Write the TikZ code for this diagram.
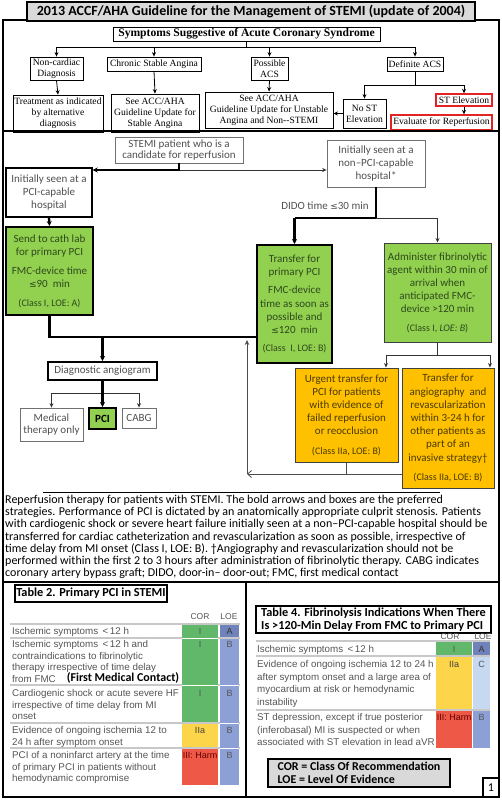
\documentclass[tikz,border=0pt]{standalone}
\usepackage{fontspec}
\setmainfont{Carlito}
\newfontfamily\serif{Liberation Serif}
\newfontfamily\arialf{Liberation Sans}
\newfontfamily\djv{DejaVu Sans}
\usetikzlibrary{arrows.meta}
\newcommand\lesy{{\djv\fontsize{9}{10}\selectfont ≤}}
\newcommand\lesyb{{\djv\fontsize{8}{9}\selectfont ≤}}
\definecolor{boxred}{HTML}{E32222}
\definecolor{txtg}{HTML}{505050}
\definecolor{lineg}{HTML}{707070}
\definecolor{pcigreen}{HTML}{92D050}
\definecolor{dgreen}{HTML}{2E4A1C}
\definecolor{orng}{HTML}{FFC000}
\definecolor{dorng}{HTML}{4A3A00}
\definecolor{lgray}{HTML}{D9D9D9}
\definecolor{tgreen}{HTML}{62B86A}
\definecolor{tblue}{HTML}{8DA0D6}
\definecolor{tdblue}{HTML}{6F82B9}
\definecolor{tlblue}{HTML}{C6D9F0}
\definecolor{tyellow}{HTML}{FDD54B}
\definecolor{tred}{HTML}{EE5846}
\definecolor{ttext}{HTML}{555555}
\definecolor{rowline}{HTML}{C8C8C8}
\begin{document}
\begin{tikzpicture}[x=1pt,y=-1pt,
  rc/.style args={#1/#2/#3/#4}{anchor=center, at={(#1*0.5+#3*0.5,#2*0.5+#4*0.5)},
     minimum width={(#3-#1)*1pt}, minimum height={(#4-#2)*1pt}},
  bx/.style={draw, inner sep=0pt, align=center, line width=0.8pt},
  sbox/.style={bx, font=\serif\fontsize{9.6}{11}\selectfont},
  rbox/.style={sbox, draw=boxred, line width=1.3pt},
  mbox/.style={bx, font=\fontsize{11}{13.2}\selectfont, text=txtg, draw=lineg},
  boldbox/.style={mbox, draw=black, line width=2pt},
  gbox/.style={mbox, fill=pcigreen, draw=black, line width=2pt, text=dgreen},
  abox/.style={mbox, fill=pcigreen, draw=black!75, line width=1pt, text=dgreen},
  obox/.style={mbox, fill=orng, draw=black!75, line width=1pt, text=dorng},
  arr/.style={-{Stealth[length=4.5pt,width=4pt]}, line width=0.8pt},
  garr/.style={arr, draw=black!80},
  thk/.style={line width=2.3pt},
  thkarr/.style={thk, -{Stealth[length=5pt,width=5pt]}},
  frame/.style={line width=1.6pt},
  cls/.style={font=\fontsize{10}{12}\selectfont},
  ttxt/.style={inner sep=0pt, anchor=north west, align=left, text=ttext},
  cell/.style={inner sep=0pt, draw=none},
  ctxt/.style={inner sep=0pt, font=\arialf\fontsize{9}{11}\selectfont, text=ttext},
  hdr/.style={inner sep=0pt, font=\arialf\fontsize{8.5}{10}\selectfont, text=ttext},
  ttl/.style={draw, line width=1.2pt, inner sep=0pt, font=\bfseries\fontsize{12.3}{14}\selectfont, align=left}
]
\useasboundingbox (0,0) rectangle (502,800);

% ---------- outer frame and title ----------
\draw[frame] (3,20) rectangle (499,797);
\node[draw, line width=1.6pt, fill=lgray, inner sep=0pt, rc=27/2/475/21,
      font=\bfseries\fontsize{14}{16}\selectfont] (title)
      {2013 ACCF/AHA Guideline for the Management of STEMI (update of 2004)};

% ---------- top flowchart ----------
\node[sbox, rc=113/27/380/41, font=\serif\bfseries\fontsize{11.6}{13}\selectfont] (sym)
      {Symptoms Suggestive of Acute Coronary Syndrome};
\node[sbox, rc=30/57/83/80] (nc) {Non-cardiac\\Diagnosis};
\node[sbox, rc=107/57/201/71] (csa) {Chronic Stable Angina};
\node[sbox, rc=251/57/288/80] (pacs) {Possible\\ACS};
\node[sbox, rc=387/57/443/71] (dacs) {Definite ACS};
\node[sbox, rc=13/95/103/132] (treat) {Treatment as indicated\\by alternative\\diagnosis};
\node[sbox, rc=111/94/199/132] (seest) {See ACC/AHA\\Guideline Update for\\Stable Angina};
\node[sbox, rc=205/92/333/128] (seeun) {See ACC/AHA\\Guideline Update for Unstable\\Angina and Non--STEMI};
\node[sbox, rc=343/99/386/128] (nost) {No ST\\Elevation};
\node[rbox, rc=436/94/492/106] (stel) {ST Elevation};
\node[rbox, rc=391/115/492/130] (evalr) {Evaluate for Reperfusion};

\coordinate (hb) at (0,47);
\coordinate (hd) at (0,85);
\draw[line width=0.8pt] (sym.south) -- (sym.south |- hb);
\draw[line width=0.8pt] (nc.north |- hb) -- (dacs.north |- hb);
\foreach \n in {nc,csa,pacs,dacs} \draw[arr] (\n.north |- hb) -- (\n.north);
\draw[arr] (nc.south) -- (treat.north);
\draw[arr] (csa.south) -- (seest.north);
\draw[arr] (pacs.south) -- (seeun.north);
\draw[line width=0.8pt] (dacs.south) -- (dacs.south |- hd);
\draw[line width=0.8pt] (nost.north |- hd) -- (stel.north |- hd);
\draw[arr] (nost.north |- hd) -- (nost.north);
\draw[arr] (stel.north |- hd) -- (stel.north);
\draw[arr] (stel.south) -- (stel.south |- evalr.north);
\draw[arr] (nost.west) -- (nost.west -| seeun.east);

\draw[line width=2pt] (3,131) -- (499,131);

% ---------- reperfusion flowchart ----------
\node[mbox, rc=115/137/243/163, font=\fontsize{11}{11.5}\selectfont] (stemi)
      {STEMI patient who is a\\candidate for reperfusion};
\node[mbox, rc=6/168/92/217, draw=black, line width=1.4pt] (pcicap)
      {Initially seen at a\\PCI-capable\\hospital};
\node[mbox, rc=327/140/425/187] (nonpci)
      {Initially seen at a\\non--PCI-capable\\hospital*};
\node[gbox, rc=6/227/93/315] (cath)
      {Send to cath lab\\for primary PCI\\[6pt]FMC-device time\\\lesy90\ \ min\\[5pt]{\fontsize{10}{12}\selectfont(Class I, LOE: A)}};
\node[gbox, rc=257/245/332/363] (trans)
      {Transfer for\\primary PCI\\[5pt]FMC-device\\time as soon as\\possible and\\\lesy120\ \ min\\[5pt]{\fontsize{10}{12}\selectfont(Class\ \ I, LOE: B)}};
\node[abox, rc=384/243/491/342] (admin)
      {Administer fibrinolytic\\agent within 30 min of\\arrival when\\anticipated FMC-\\device >120 min\\[5pt]{\fontsize{10}{12}\selectfont(Class I, \textit{LOE: B})}};
\node[obox, rc=295/368/398/462] (urg)
      {Urgent transfer for\\PCI for patients\\with evidence of\\failed reperfusion\\or reocclusion\\[6pt]{\fontsize{10}{12}\selectfont(Class IIa, LOE: B)}};
\node[obox, rc=402/368/494/488] (ang)
      {Transfer for\\angiography\ \ and\\revascularization\\within 3-24 h for\\other patients as\\part of an\\invasive strategy†\\[6pt]{\fontsize{10}{12}\selectfont(Class IIa, LOE: B)}};
\node[boldbox, rc=48/362/157/380] (diag) {Diagnostic angiogram};
\node[mbox, rc=20/408/83/441, font=\fontsize{11}{12.5}\selectfont] (med) {Medical\\therapy only};
\node[gbox, rc=89/408/116/429, text=black] (pci) {\textbf{PCI}};
\node[mbox, rc=122/408/156/428] (cabg) {CABG};
\node[inner sep=0pt, font=\fontsize{11}{13}\selectfont, text=txtg] (dido) at (325,206) {DIDO time \lesy30 min};

\coordinate (ys) at (0,170);
\coordinate (yc) at (0,337);
\coordinate (yn) at (0,218);
\coordinate (ya) at (0,355);
\coordinate (yb) at (0,474);
\coordinate (yd) at (0,393);
\coordinate (la) at (386,355);
\coordinate (lb) at (490,355);
\coordinate (lr) at (247,474);
\coordinate (lu) at (247,340);

\draw[garr] (stemi.south |- ys) -- (nonpci.west |- ys);
\draw[thkarr] (stemi.south) -- (stemi.south |- ys) -- (pcicap.east |- ys);
\draw[thkarr] (pcicap.south) -- (cath.north);
\draw[thk] (cath.south) -- (cath.south |- yc) -- (trans.west |- yc);
\draw[thkarr] (diag.north |- yc) -- (diag.north);
\draw[thk] (nonpci.south) -- (nonpci.south |- yn) -- (trans.north |- yn);
\draw[thkarr] (trans.north |- yn) -- (trans.north);
\draw[garr] (nonpci.south |- yn) -- (admin.north |- yn) -- (admin.north);
\draw[line width=0.8pt, draw=black!80] (admin.south) -- (admin.south |- ya);
\draw[line width=0.8pt, draw=black!80] (la) -- (lb);
\draw[garr] (la) -- (la |- urg.north);
\draw[garr] (lb) -- (lb |- ang.north);
\draw[line width=0.8pt, draw=black!70] (urg.south) -- (urg.south |- yb);
\draw[line width=0.8pt, draw=black!70, -{Straight Barb[length=4pt,width=7pt]}] (ang.west |- yb) -- (lr);
\draw[line width=0.8pt, draw=black!70, -{Stealth[length=5pt,width=4.5pt]}] (lr) -- (lu);
\draw[line width=0.8pt, draw=black!80] (med.north |- yd) -- (cabg.north |- yd);
\draw[garr] (med.north |- yd) -- (med.north);
\draw[garr] (cabg.north |- yd) -- (cabg.north);
\draw[thkarr] (diag.south) -- (pci.north);

% ---------- caption ----------
\draw[line width=1pt] (43,492) -- (440,492);
\node[inner sep=0pt, anchor=north west, align=left, font=\fontsize{12}{12.2}\selectfont] (cap) at (5,495)
 {Reperfusion therapy for patients with STEMI. The bold arrows and boxes are the preferred\\
  strategies. Performance of PCI is dictated by an anatomically appropriate culprit stenosis. Patients\\
  with cardiogenic shock or severe heart failure initially seen at a non--PCI-capable hospital should be\\
  transferred for cardiac catheterization and revascularization as soon as possible, irrespective of\\
  time delay from MI onset (Class I, LOE: B). †Angiography and revascularization should not be\\
  performed within the first 2 to 3 hours after administration of fibrinolytic therapy. CABG indicates\\
  coronary artery bypass graft; DIDO, door-in-- door-out; FMC, first medical contact};
\draw[line width=2pt] (3,582) -- (499,582);
\draw[line width=2pt] (246,582) -- (246,797);

% ---------- Table 2 ----------
\node[ttl, rc=15/585/167/602, align=center] (t2) {Table 2. Primary PCI in STEMI};
\node[hdr] (t2cor) at (200,617) {COR};
\node[hdr] (t2loe) at (229,617) {LOE};
\foreach \yy in {624,638,685,723,748} \draw[rowline, line width=1.2pt] (10,\yy) -- (240,\yy);
\node[cell, fill=tgreen, rc=182/624.6/218/722.4] (t2c1) {};
\node[cell, fill=tyellow, rc=182/723.6/218/747.4] (t2c4) {};
\node[cell, fill=tred, rc=182/748.6/218/785] (t2c5) {};
\node[cell, fill=tdblue, rc=220/624.6/239/637.4] (t2l1) {};
\node[cell, fill=tblue, rc=220/638.6/239/785] (t2l2) {};
\draw[white, line width=0.5pt] (182,638) -- (218,638) (182,685) -- (218,685) (220,685) -- (239,685) (220,723) -- (239,723) (220,748) -- (239,748);
\node[ctxt] (r1c) at (200,631) {I};
\node[ctxt] (r2c) at (200,644) {I};
\node[ctxt] (r3c) at (200,693) {I};
\node[ctxt, text=black!70!yellow!50!black] (r4c) at (200,730) {IIa};
\node[ctxt, text=red!40!black] (r5c) at (200,755) {III: Harm};
\node[ctxt, text=black!80] (r1l) at (229.5,631) {A};
\node[ctxt] (r2l) at (229.5,644) {B};
\node[ctxt] (r3l) at (229.5,693) {B};
\node[ctxt] (r4l) at (229.5,730) {B};
\node[ctxt] (r5l) at (229.5,755) {B};
\node[ttxt, font=\arialf\fontsize{9.8}{11.7}\selectfont] (r1t) at (12,627) {Ischemic symptoms \,<\,12 h};
\node[ttxt, font=\arialf\fontsize{9.8}{11.7}\selectfont] (r2t) at (12,640)
  {Ischemic symptoms \,<\,12 h and\\contraindications to fibrinolytic\\therapy irrespective of time delay\\from FMC};
\node[inner sep=0pt, font=\bfseries\fontsize{12}{13}\selectfont] (fmc) at (123,678) {(First Medical Contact)};
\node[ttxt, font=\arialf\fontsize{9.8}{11.7}\selectfont] (r3t) at (12,689)
  {Cardiogenic shock or acute severe HF\\irrespective of time delay from MI\\onset};
\node[ttxt, font=\arialf\fontsize{9.8}{11.7}\selectfont] (r4t) at (12,726)
  {Evidence of ongoing ischemia 12 to\\24 h after symptom onset};
\node[ttxt, font=\arialf\fontsize{9.8}{11.7}\selectfont] (r5t) at (12,751)
  {PCI of a noninfarct artery at the time\\of primary PCI in patients without\\hemodynamic compromise};

% ---------- Table 4 ----------
\node[ttl, rc=256/606/491/633, align=left, font=\bfseries\fontsize{12.3}{13}\selectfont] (t4)
  {Table 4. Fibrinolysis Indications When There\\Is >120-Min Delay From FMC to Primary PCI};
\node[hdr] (t4cor) at (450,637) {COR};
\node[hdr] (t4loe) at (483,637) {LOE};
\foreach \yy in {641,656,710} \draw[rowline, line width=1.2pt] (256,\yy) -- (490,\yy);
\node[cell, fill=tgreen, rc=436/641.6/472/655.4] (q1c) {};
\node[cell, fill=tyellow, rc=436/656.6/472/709.4] (q2c) {};
\node[cell, fill=tred, rc=436/710.6/472/748] (q3c) {};
\node[cell, fill=tdblue, rc=473/641.6/490/655.4] (q1l) {};
\node[cell, fill=tlblue, rc=473/656.6/490/709.4] (q2l) {};
\node[cell, fill=tblue, rc=473/710.6/490/748] (q3l) {};
\node[ctxt] (q1ct) at (454,649) {I};
\node[ctxt, text=black!70!yellow!50!black] (q2ct) at (454,664) {IIa};
\node[ctxt, text=red!40!black] (q3ct) at (454,717) {III: Harm};
\node[ctxt, text=black!80] (q1lt) at (481.5,649) {A};
\node[ctxt] (q2lt) at (481.5,664) {C};
\node[ctxt] (q3lt) at (481.5,717) {B};
\node[ttxt, font=\arialf\fontsize{9.8}{12.8}\selectfont] (q1t) at (257,645) {Ischemic symptoms \,<\,12 h};
\node[ttxt, font=\arialf\fontsize{9.8}{12.8}\selectfont] (q2t) at (257,660)
  {Evidence of ongoing ischemia 12 to 24 h\\after symptom onset and a large area of\\myocardium at risk or hemodynamic\\instability};
\node[ttxt, font=\arialf\fontsize{9.8}{12.8}\selectfont] (q3t) at (257,713)
  {ST depression, except if true posterior\\(inferobasal) MI is suspected or when\\associated with ST elevation in lead aVR};

\node[draw, line width=1.4pt, fill=lgray, inner sep=0pt, rc=268/759/450/787, align=left,
      font=\bfseries\fontsize{12}{12.8}\selectfont] (legend)
  {COR = Class Of Recommendation\\LOE = Level Of Evidence};
\node[draw, line width=1.4pt, fill=white, inner sep=0pt, rc=483/778/499/797,
      font=\fontsize{12}{13}\selectfont] (pg) {1};
\end{tikzpicture}
\end{document}
